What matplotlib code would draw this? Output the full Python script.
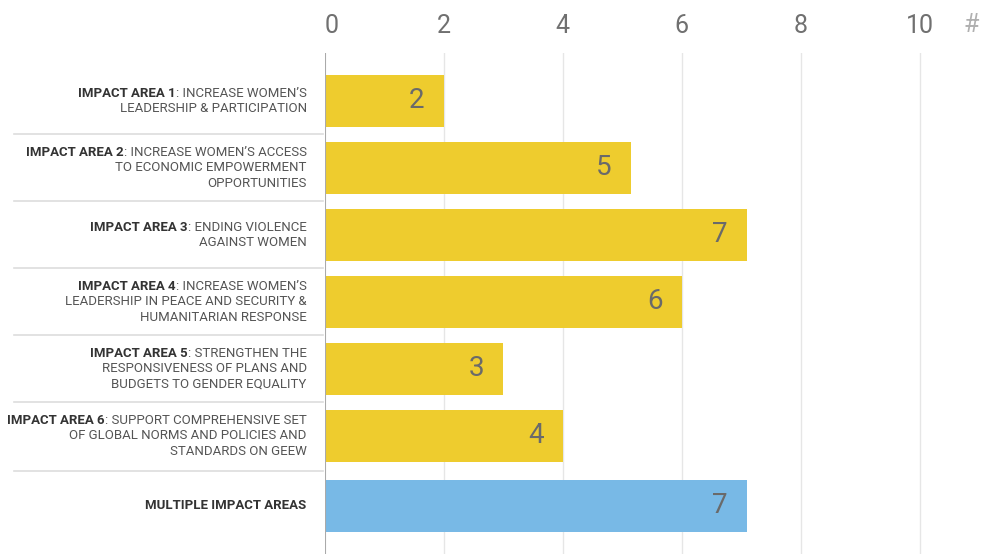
import numpy as np
import matplotlib
matplotlib.use("Agg")
import matplotlib.pyplot as plt
from matplotlib.transforms import blended_transform_factory

plt.rcParams['font.family'] = ['Roboto', 'DejaVu Sans']

# data
area_prefix = ["IMPACT AREA 1", "IMPACT AREA 2", "IMPACT AREA 3", "IMPACT AREA 4",
               "IMPACT AREA 5", "IMPACT AREA 6", "MULTIPLE IMPACT AREAS"]
area_text = [
    [": INCREASE WOMEN\u2019S", "LEADERSHIP & PARTICIPATION"],
    [": INCREASE WOMEN\u2019S ACCESS", "TO ECONOMIC EMPOWERMENT", "OPPORTUNITIES"],
    [": ENDING VIOLENCE", "AGAINST WOMEN"],
    [": INCREASE WOMEN\u2019S", "LEADERSHIP IN PEACE AND SECURITY &", "HUMANITARIAN RESPONSE"],
    [": STRENGTHEN THE", "RESPONSIVENESS OF PLANS AND", "BUDGETS TO GENDER EQUALITY"],
    [": SUPPORT COMPREHENSIVE SET", "OF GLOBAL NORMS AND POLICIES AND", "STANDARDS ON GEEW"],
    [],
]
counts = [2, 5, 7, 6, 3, 4, 7]
bar_lengths = [2.0, 5.15, 7.1, 6.0, 3.0, 4.0, 7.1]  # as drawn in the source
xticks = [0, 2, 4, 6, 8, 10]

yellow = "#EECC2E"
blue = "#78B9E6"
colors = [yellow] * 6 + [blue]

W, H = 982, 554
fig = plt.figure(figsize=(W / 100, H / 100), dpi=100)
ax_left = 324.5 / W
ax_top = 1 - 53 / H
ax = fig.add_axes([ax_left, 0, 1 - ax_left, ax_top])

px_x = 59.5   # px per unit
px_y = 67.0   # px per row
ypos = np.arange(len(counts), dtype=float)
ypos[-1] += 0.045

ax.barh(ypos, bar_lengths, height=0.77, color=colors, zorder=3)
ax.set_xlim(0, (W - 324.5) / px_x)
ax.set_ylim((H - 100.8) / px_y, (53 - 100.8) / px_y)

for s in ax.spines.values():
    s.set_visible(False)
ax.axvline(0, color="#aaaaaa", lw=1.5, zorder=4)
for t in xticks[1:]:
    ax.axvline(t, color="#e6e6e6", lw=1, zorder=1)

ax.set_yticks([])
ax.xaxis.set_ticks_position('top')
ax.set_xticks(xticks)
ax.set_xticklabels([str(t) for t in xticks])
ax.tick_params(axis='x', length=0, pad=11, labelsize=18, labelcolor="#707070")
ax.get_xticklabels()[0].set_ha('left')
fig.text(971 / W, 1 - 25 / H, "#", ha='center', va='center', fontsize=18,
         color="#b0b0b0")

# value labels
for y, v, c in zip(ypos, bar_lengths, counts):
    ax.text(v - 19 / px_x, y, str(c), ha='right', va='center', fontsize=20,
            color="#6a6a6a", zorder=5)

# category labels
tr = blended_transform_factory(fig.transFigure, ax.transData)
xr = 306.7 / W
line_h = 15.3 / px_y
fs = 9.5
for y, pre, lines in zip(ypos, area_prefix, area_text):
    if not lines:
        ax.text(xr, y, pre, transform=tr, ha='right', va='center', fontsize=fs,
                color="#333333", fontweight='bold', clip_on=False)
        continue
    n = len(lines)
    y0 = y - (n - 1) / 2 * line_h
    for k, ln in enumerate(lines):
        yy = y0 + k * line_h
        t = ax.text(xr, yy, ln, transform=tr, ha='right', va='center',
                    fontsize=fs, color="#555555", clip_on=False)
        if k == 0:
            ax.annotate(pre, xy=(0, 0), xycoords=t, ha='right', va='bottom',
                        fontsize=fs, color="#333333", fontweight='bold',
                        annotation_clip=False)

# row separators
for k in range(len(ypos) - 1):
    ym = (ypos[k] + ypos[k + 1]) / 2
    ax.plot([14 / W, 323 / W], [ym, ym], transform=tr, color="#dddddd",
            lw=1.2, clip_on=False)

fig.savefig("out.png", dpi=100)
